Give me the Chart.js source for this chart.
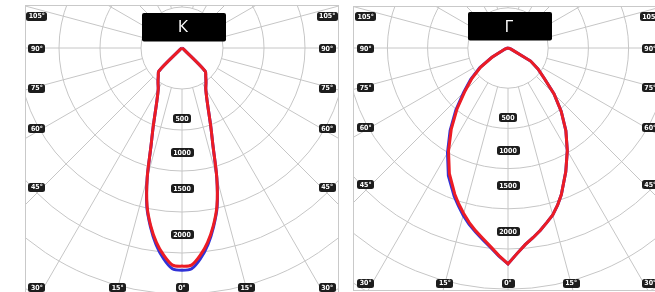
<!DOCTYPE html>
<html>
<head>
<meta charset="utf-8">
<script src="https://cdn.jsdelivr.net/npm/chart.js@4.4.1/dist/chart.umd.min.js"></script>
<style>
    html, body { margin: 0; padding: 0; background: #fff; overflow: hidden; }
    body { width: 655px; height: 292px; position: relative; }
    canvas { position: absolute; }
</style>
</head>
<body>
<canvas id="chartK" width="314" height="291" style="left:25px;top:5px"></canvas>
<canvas id="chartG" width="308" height="285" style="left:353px;top:6px"></canvas>
<script>
// angle from the downward axis, degrees (half of the curve)
const angles = [0, 2.5, 5, 7.5, 10, 12.5, 15, 17.5, 20, 25, 30, 35, 40, 45, 50, 55, 60, 70, 80, 90];

// luminous intensity, cd  (К is symmetric)
const kRed  = [2660, 2650, 2540, 2390, 2200, 1970, 1640, 1260, 1030, 730, 580, 510, 450, 400, 40, 10, 0, 0, 0, 0];
const kBlue = [2710, 2695, 2580, 2420, 2215, 1980, 1640, 1260, 1030, 730, 580, 510, 450, 400, 40, 10, 0, 0, 0, 0];

const gRedLeft   = [2685, 2585, 2480, 2390, 2310, 2225, 2130, 2035, 1935, 1725, 1480, 1230, 985, 755, 585, 415, 225, 40, 10, 0];
const gRedRight  = [2685, 2560, 2455, 2380, 2305, 2225, 2150, 2050, 1940, 1700, 1475, 1255, 1030, 810, 590, 455, 325, 40, 10, 0];
const gBlueLeft  = [2685, 2590, 2490, 2405, 2325, 2245, 2155, 2055, 1960, 1755, 1505, 1255, 1010, 780, 605, 430, 235, 40, 10, 0];
const gBlueRight = gRedRight;

// grid and tick labels
const gridCircles = [500, 1000, 1500, 2000, 2500, 3000, 3500, 4000];
const rayStep = 15;
const intensityTicks = ['500', '1000', '1500', '2000'];
const sideAngleTicks = ['105°', '90°', '75°', '60°', '45°', '30°'];
const bottomAngleTicks = ['15°', '0°', '15°'];

// where the tick tags sit (cd units, same axes as the curves)
const intensityTickY = [-865, -1275, -1710, -2280];
const sideTickX = 1770;
const sideTickY = [390, -10, -490, -985, -1697, -2925];
const bottomTickX = [-785, 0, 785];
const bottomTickY = -2925;

const RED = 'rgb(236, 28, 36)';
const BLUE = 'rgb(48, 50, 215)';
const GRID = '#c6c6c6';

function polar(a, v) {
    const r = a * Math.PI / 180;
    return { x: v * Math.sin(r), y: -v * Math.cos(r) };
}

function curve(leftVals, rightVals) {
    const pts = [];
    for (let i = angles.length - 1; i > 0; i--) pts.push(polar(-angles[i], leftVals[i]));
    for (let i = 0; i < angles.length; i++) pts.push(polar(angles[i], rightVals[i]));
    return pts;
}

function tag(ctx, text, x, y, font, h) {
    ctx.font = font;
    const w = Math.round(ctx.measureText(text).width) + 5;
    const x0 = Math.round(x - w / 2), y0 = Math.round(y - h / 2);
    ctx.fillStyle = '#1d1d1d';
    ctx.beginPath();
    ctx.roundRect(x0, y0, w, h, 2.5);
    ctx.fill();
    ctx.fillStyle = '#fff';
    ctx.textAlign = 'center';
    ctx.textBaseline = 'middle';
    ctx.fillText(text, x, y + 0.5);
}

const polarGrid = {
    id: 'polarGrid',
    beforeDatasetsDraw(chart) {
        const { ctx, scales: { x, y } } = chart;
        const cx = x.getPixelForValue(0), cy = y.getPixelForValue(0);
        const k = (x.getPixelForValue(1000) - cx) / 1000;
        ctx.save();
        ctx.strokeStyle = GRID;
        ctx.lineWidth = 1;
        gridCircles.forEach(v => {
            ctx.beginPath();
            ctx.arc(cx, cy, v * k, 0, Math.PI * 2);
            ctx.stroke();
        });
        const r0 = gridCircles[0], r1 = 6000;
        for (let a = -180; a < 180; a += rayStep) {
            const p0 = polar(a, r0), p1 = polar(a, r1);
            ctx.beginPath();
            ctx.moveTo(x.getPixelForValue(p0.x), y.getPixelForValue(p0.y));
            ctx.lineTo(x.getPixelForValue(p1.x), y.getPixelForValue(p1.y));
            ctx.stroke();
        }
        ctx.restore();
    },
    afterDatasetsDraw(chart, args, opts) {
        const { ctx, scales: { x, y } } = chart;
        const cx = x.getPixelForValue(0), cy = y.getPixelForValue(0);
        ctx.save();
        const small = 'bold 7px "DejaVu Sans Condensed", "DejaVu Sans", sans-serif';

        intensityTicks.forEach((t, i) => tag(ctx, t, cx, y.getPixelForValue(intensityTickY[i]), small, 9));

        sideAngleTicks.forEach((t, i) => {
            const py = y.getPixelForValue(sideTickY[i]);
            tag(ctx, t, x.getPixelForValue(-sideTickX), py, small, 9);
            tag(ctx, t, x.getPixelForValue(sideTickX), py, small, 9);
        });
        bottomAngleTicks.forEach((t, i) => {
            tag(ctx, t, x.getPixelForValue(bottomTickX[i]), y.getPixelForValue(bottomTickY), small, 9);
        });

        // title box
        ctx.fillStyle = '#000';
        ctx.beginPath();
        ctx.roundRect(Math.round(cx - 40.5), Math.round(cy - 35.5), 84, 28.5, 2);
        ctx.fill();
        ctx.fillStyle = '#fff';
        ctx.font = '17px "Open Sans", "DejaVu Sans", sans-serif';
        ctx.textAlign = 'center';
        ctx.textBaseline = 'middle';
        ctx.fillText(opts.title, cx + 1, cy - 21);

        // panel frame
        ctx.strokeStyle = '#c9c9c9';
        ctx.lineWidth = 1;
        ctx.strokeRect(0.5, 0.5, chart.width - 1, chart.height - 1);
        ctx.restore();
    }
};

function makePanel(id, title, cx, cy, cdPerPx, datasets, tension) {
    const canvas = document.getElementById(id);
    const w = canvas.width, h = canvas.height;
    return new Chart(canvas, {
        type: 'scatter',
        data: {
            datasets: datasets.map(d => ({
                data: d.data,
                showLine: true,
                borderColor: d.color,
                borderWidth: 3,
                pointRadius: 0,
                tension: tension,
                fill: false
            }))
        },
        options: {
            responsive: false,
            animation: false,
            events: [],
            layout: { padding: 0 },
            plugins: {
                legend: { display: false },
                tooltip: { enabled: false },
                polarGrid: { title: title }
            },
            scales: {
                x: { type: 'linear', display: false, min: -cx * cdPerPx, max: (w - cx) * cdPerPx },
                y: { type: 'linear', display: false, min: -(h - cy) * cdPerPx, max: cy * cdPerPx }
            }
        },
        plugins: [polarGrid]
    });
}

// first dataset is drawn on top
makePanel('chartK', 'К', 157, 43, 500 / 41, [
    { data: curve(kRed, kRed), color: RED },
    { data: curve(kBlue, kBlue), color: BLUE }
], 0.3);

makePanel('chartG', 'Г', 155, 42, 500 / 40.2, [
    { data: curve(gRedLeft, gRedRight), color: RED },
    { data: curve(gBlueLeft, gBlueRight), color: BLUE }
], 0);
</script>
</body>
</html>
